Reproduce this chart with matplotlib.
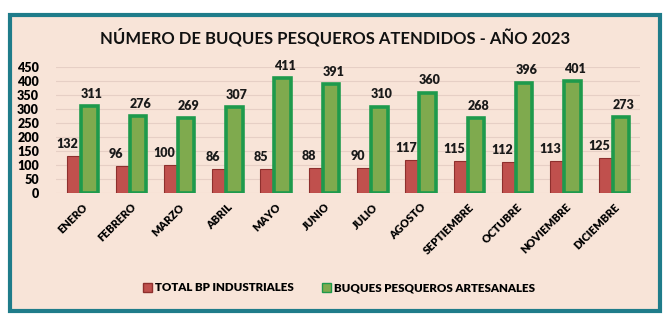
import numpy as np
import matplotlib.pyplot as plt
from matplotlib.patches import Rectangle, Patch

meses = ["ENERO", "FEBRERO", "MARZO", "ABRIL", "MAYO", "JUNIO", "JULIO",
         "AGOSTO", "SEPTIEMBRE", "OCTUBRE", "NOVIEMBRE", "DICIEMBRE"]
industriales = [132, 96, 100, 86, 85, 88, 90, 117, 115, 112, 113, 125]
artesanales = [311, 276, 269, 307, 411, 391, 310, 360, 268, 396, 401, 273]
y_ticks = [0, 50, 100, 150, 200, 250, 300, 350, 400, 450]

plt.rcParams['font.family'] = ['Lato', 'DejaVu Sans']

bg = '#F8E4D8'
red = '#C0504D'
red_edge = '#8E2F2D'
green = '#7FAA4E'
green_edge = '#1E9A4C'

fig = plt.figure(figsize=(6.71, 3.26), dpi=100)
fig.patch.set_facecolor('white')

# panel with teal border
fig.patches.append(Rectangle((0.015, 0.045), 0.968, 0.91, transform=fig.transFigure,
                             facecolor=bg, edgecolor='#1F7C8A', linewidth=3, zorder=-10))

ax = fig.add_axes([0.083, 0.408, 0.871, 0.385])
ax.patch.set_alpha(0)

x = np.arange(len(meses))
w_r = 0.28
w_g = 0.34
ax.bar(x - 0.17, industriales, w_r, color=red, edgecolor=red_edge, linewidth=0.8, zorder=3)
ax.bar(x + 0.15, artesanales, w_g, color=green, edgecolor=green_edge, linewidth=2.6, zorder=3)

for i in range(len(meses)):
    ax.text(x[i] - 0.3, industriales[i] + 22, str(industriales[i]), ha='center', va='bottom',
            fontsize=9, fontweight='heavy', color='#1a1a1a')
    ax.text(x[i] + 0.2, artesanales[i] + 22, str(artesanales[i]), ha='center', va='bottom',
            fontsize=9, fontweight='heavy', color='#1a1a1a')

ax.set_xlim(-0.55, len(meses) - 0.45)
ax.set_ylim(0, 450)
ax.set_yticks(y_ticks)
ax.set_yticklabels([str(t) for t in y_ticks], fontsize=9, fontweight='heavy')
ax.set_xticks(x)
ax.set_xticklabels(meses, rotation=45, ha='right', rotation_mode='anchor',
                   fontsize=7.8, fontweight='heavy')
ax.tick_params(length=0, pad=12, axis='y')
ax.tick_params(length=0, pad=6, axis='x')
ax.grid(axis='y', color='#E6CFC5', linewidth=0.8, zorder=0)
for s in ax.spines.values():
    s.set_visible(False)

fig.text(0.5, 0.885, "NÚMERO DE BUQUES PESQUEROS ATENDIDOS - AÑO 2023", ha='center',
         va='center', fontsize=12, fontweight='bold', color='#111111')

handles = [Patch(facecolor=red, edgecolor=red_edge), Patch(facecolor=green, edgecolor=green_edge)]
fig.legend(handles, ["TOTAL BP INDUSTRIALES", "BUQUES PESQUEROS ARTESANALES"],
           loc='center', bbox_to_anchor=(0.505, 0.117), ncol=2, frameon=False,
           prop={'weight': 'heavy', 'size': 8.3}, handlelength=0.8, handleheight=0.8,
           handletextpad=0.2, columnspacing=2.5)

fig.savefig('out.png', dpi=100, facecolor='white')
